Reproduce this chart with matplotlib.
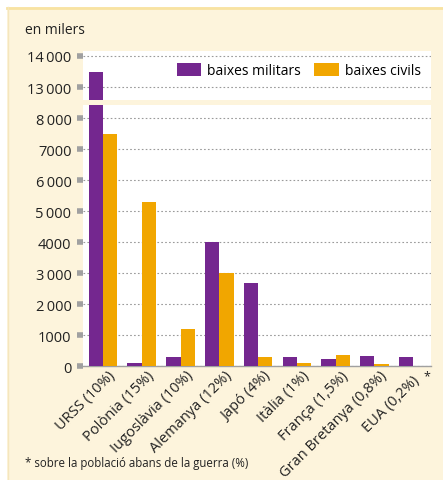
import matplotlib
matplotlib.use("Agg")
import matplotlib.pyplot as plt
import matplotlib.patches as mpatches
from matplotlib.transforms import ScaledTranslation
import numpy as np

categories = ["URSS (10%)", "Polònia (15%)", "Iugoslàvia (10%)", "Alemanya (12%)",
              "Japó (4%)", "Itàlia (1%)", "França (1,5%)", "Gran Bretanya (0,8%)", "EUA (0,2%)"]
militars = [13500, 100, 300, 4000, 2700, 300, 250, 320, 300]
civils = [7500, 5300, 1200, 3000, 300, 100, 350, 60, 0]
low_ticks = [0, 1000, 2000, 3000, 4000, 5000, 6000, 7000, 8000]
low_labels = ["0", "1000", "2\u2009000", "3\u2009000", "4000", "5\u2009000", "6\u2009000", "7000", "8\u2009000"]
high_ticks = [13000, 14000]
high_labels = ["13\u2009000", "14\u2009000"]

PURPLE = "#74278f"
ORANGE = "#f1a600"
CREAM = "#fdf4dc"
FONT = ["Open Sans", "DejaVu Sans"]
plt.rcParams["font.family"] = FONT

W, H = 443, 481
fig = plt.figure(figsize=(W / 100, H / 100), dpi=100)
fig.patch.set_facecolor("white")
# cream panel
fig.patches.append(mpatches.Rectangle((7 / W, 0), 1 - 7 / W, (H - 8) / H, transform=fig.transFigure,
                                      facecolor=CREAM, edgecolor="none", zorder=-10))
fig.lines.append(plt.Line2D([7 / W, 1], [(H - 8.5) / H, (H - 8.5) / H], transform=fig.transFigure,
                            color="#f8e3a2", lw=2, zorder=-9))
fig.lines.append(plt.Line2D([7.5 / W, 7.5 / W], [0, (H - 8) / H], transform=fig.transFigure,
                            color="#f5e6bd", lw=1, zorder=-9))

left = 82.5 / W
width = (431 - 82.5) / W
ax_lo = fig.add_axes([left, (H - 367.3) / H, width, (367.3 - 106) / H])
ax_hi = fig.add_axes([left, (H - 100.7) / H, width, (100.7 - 51.7) / H])

x = np.arange(len(categories))
bw = 0.37
for ax in (ax_lo, ax_hi):
    ax.set_facecolor("white")
    ax.bar(x - bw / 2, militars, bw, color=PURPLE, zorder=3)
    ax.bar(x + bw / 2, civils, bw, color=ORANGE, zorder=3)
    ax.set_xlim(-0.53, 8.46)
    for s in ("left", "right", "top", "bottom"):
        ax.spines[s].set_visible(False)
    ax.yaxis.grid(True, linestyle=(0, (1.5, 2)), color="#9a9a9a", lw=0.8, zorder=1)
    ax.tick_params(axis="y", length=4, width=4, color="#a0a0a0", pad=4, labelsize=10.5,
                   labelcolor="#222222")

ax_lo.set_ylim(0, 8430)
ax_lo.set_yticks(low_ticks)
ax_lo.set_yticklabels(low_labels)
ax_lo.spines["bottom"].set_visible(True)
ax_lo.spines["bottom"].set_color("#a0a0a0")
ax_lo.spines["bottom"].set_linewidth(1)
ax_lo.set_xticks(x)
ax_lo.set_xticklabels(categories, rotation=45, ha="right", va="top", rotation_mode="anchor",
                      fontsize=10.5, color="#222222")
ax_lo.tick_params(axis="x", length=0, pad=1)
labels = ax_lo.get_xticklabels()
for i, lab in enumerate(labels):
    dx, dy = 5, 0
    if i == len(labels) - 1:
        dx, dy = -1, -5
    lab.set_transform(lab.get_transform() + ScaledTranslation(dx / 100, dy / 100, fig.dpi_scale_trans))

ax_hi.set_ylim(12608, 14158)
ax_hi.set_yticks(high_ticks)
ax_hi.set_yticklabels(high_labels)
ax_hi.set_xticks([])

handles = [mpatches.Patch(facecolor=PURPLE, label="baixes militars"),
           mpatches.Patch(facecolor=ORANGE, label="baixes civils")]
ax_hi.legend(handles=handles, ncol=2, frameon=False, loc="center right",
             bbox_to_anchor=(0.995, 0.6), fontsize=10, handlelength=1.75, handleheight=1.1,
             handletextpad=0.45, columnspacing=0.95, borderaxespad=0.2)

fig.text(25 / W, 1 - 30 / H, "en milers", fontsize=10, color="#222222", va="center", ha="left")
fig.text(25 / W, 1 - 464 / H, "* sobre la població abans de la guerra (%)", fontsize=8.3,
         color="#222222", va="center", ha="left")
fig.text(427 / W, 1 - 377 / H, "*", fontsize=9, color="#222222", va="center", ha="center")

fig.savefig("out.png", dpi=100, facecolor=fig.get_facecolor())
